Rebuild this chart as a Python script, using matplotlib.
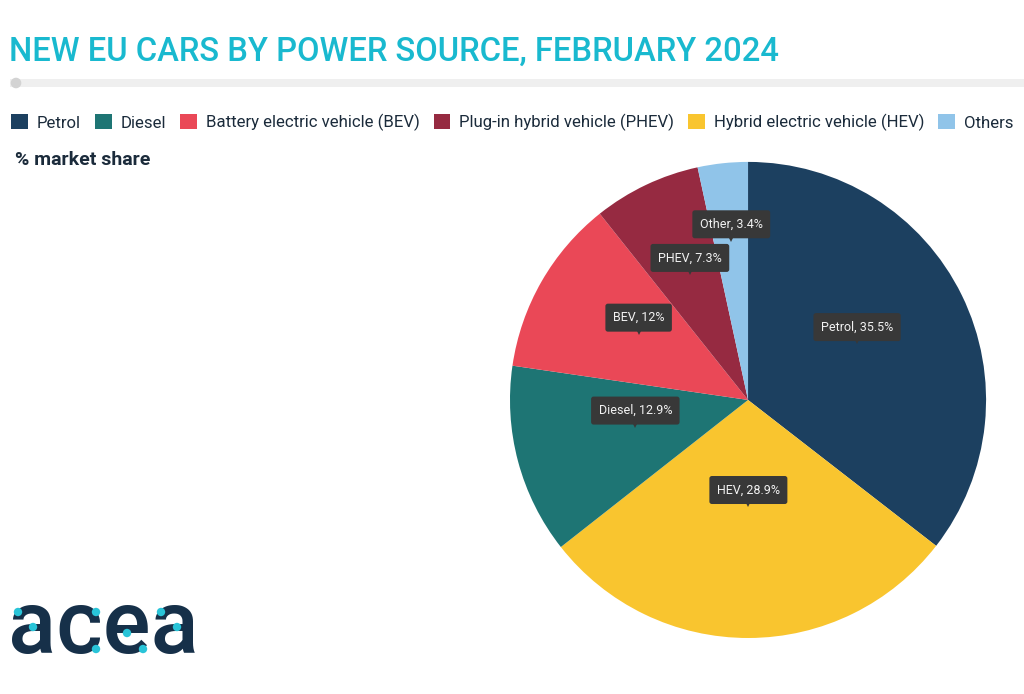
import numpy as np
import matplotlib.pyplot as plt
from matplotlib.patches import Patch, FancyBboxPatch, Circle
from matplotlib.transforms import IdentityTransform

plt.rcParams['font.family'] = ['Roboto', 'DejaVu Sans']

# data, in clockwise drawing order from 12 o'clock
slices = ['Petrol', 'HEV', 'Diesel', 'BEV', 'PHEV', 'Other']
shares = [35.5, 28.9, 12.9, 12.0, 7.3, 3.4]
share_txt = ['35.5%', '28.9%', '12.9%', '12%', '7.3%', '3.4%']

legend_names = ['Petrol', 'Diesel', 'Battery electric vehicle (BEV)',
                'Plug-in hybrid vehicle (PHEV)', 'Hybrid electric vehicle (HEV)', 'Others']
legend_keys = ['Petrol', 'Diesel', 'BEV', 'PHEV', 'HEV', 'Other']

colors = {'Petrol': '#1c4060', 'Diesel': '#1e7574', 'BEV': '#ea4857',
          'PHEV': '#962a41', 'HEV': '#f9c52f', 'Other': '#90c4e9'}
# how far out along the slice the tooltip tip sits (fraction of radius)
label_r = [0.51, 0.46, 0.49, 0.53, 0.57, 0.66]

dpi = 100
fig = plt.figure(figsize=(10.24, 6.94), dpi=dpi)
fig.patch.set_facecolor('white')

# title + grey rule
fig.text(0.009, 0.926, 'NEW EU CARS BY POWER SOURCE, FEBRUARY 2024', color='#19b9cf',
         fontsize=23.6, fontweight='medium', va='center')
fig.patches.append(FancyBboxPatch((0.010, 0.874), 0.99, 0.012, boxstyle='square,pad=0',
                                  transform=fig.transFigure, facecolor='#efefef',
                                  edgecolor='none'))
fig.patches.append(Circle((16, 694 - 83), 5.3, transform=IdentityTransform(),
                          facecolor='#d3d3d3', edgecolor='none'))

# legend
handles = [Patch(facecolor=colors[k], edgecolor='none', label=n)
           for k, n in zip(legend_keys, legend_names)]
fig.legend(handles=handles, loc='center left', bbox_to_anchor=(0.011, 0.823), ncol=6,
           frameon=False, fontsize=12.1, handlelength=1.0, handleheight=1.0,
           handletextpad=0.52, columnspacing=0.84, labelcolor='#1b2b3b',
           borderpad=0, borderaxespad=0)

fig.text(0.015, 0.770, '% market share', fontsize=14, fontweight='bold',
         color='#1b2b3b', va='center')

# pie
ax = fig.add_axes([0.498, 0.0807, 0.465, 0.686])
wedges, _ = ax.pie(shares, colors=[colors[s] for s in slices], startangle=90,
                   counterclock=False, radius=1.0)
ax.set_xlim(-1, 1)
ax.set_ylim(-1, 1)
ax.set_aspect('equal')

start = 90.0
for s, v, t, rr in zip(slices, shares, share_txt, label_r):
    mid = np.deg2rad(start - v * 3.6 / 2)
    start -= v * 3.6
    x, y = rr * np.cos(mid), rr * np.sin(mid)
    ax.plot(x, y + 0.03, marker='v', markersize=7, color='#383838', markeredgewidth=0)
    ax.annotate(f'{s}, {t}', (x, y), xytext=(0, 14), textcoords='offset points',
                ha='center', va='center', fontsize=9, color='#f2f2f2',
                bbox=dict(boxstyle='round,pad=0.6,rounding_size=0.2',
                          facecolor='#383838', edgecolor='none'))

# logo
fig.text(0.008, 0.094, 'acea', fontsize=64, color='#163049', va='center',
         fontweight='medium')
# cyan dots of the logo (pixel positions)
dot_px = [(18, 612), (33, 627), (96, 612), (96, 649), (127, 633), (143, 649),
          (161, 612), (177, 627)]
for px, py in dot_px:
    fig.patches.append(Circle((px, 694 - py), 4.2, transform=IdentityTransform(),
                              facecolor='#29c4d8', edgecolor='none', zorder=5))

plt.savefig('out.png', dpi=dpi)
